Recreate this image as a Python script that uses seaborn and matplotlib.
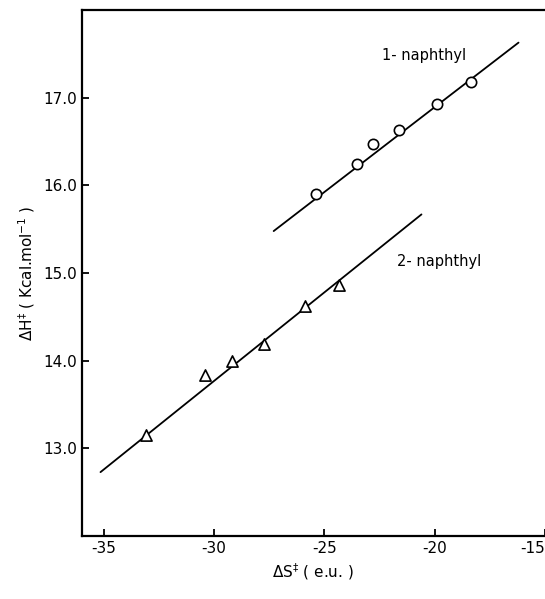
import pandas as pd
import matplotlib.pyplot as plt
import seaborn as sns

# dados (1- e 2-naftil)
ds_1 = [-25.4, -23.5, -22.8, -21.6, -19.9, -18.35]
dh_1 = [15.90, 16.24, 16.47, 16.63, 16.93, 17.18]
fit_ds_1 = [-27.3, -16.2]
fit_dh_1 = [15.48, 17.63]

ds_2 = [-33.1, -30.4, -29.2, -27.75, -25.9, -24.35]
dh_2 = [13.15, 13.84, 14.00, 14.19, 14.62, 14.87]
fit_ds_2 = [-35.15, -20.6]
fit_dh_2 = [12.73, 15.67]

x_ticks = [-35, -30, -25, -20, -15]
y_ticks = [13.0, 14.0, 15.0, 16.0, 17.0]

sns.set_style('ticks', {'axes.edgecolor': 'black', 'text.color': 'black',
                        'xtick.color': 'black', 'ytick.color': 'black',
                        'axes.labelcolor': 'black'})
plt.rcParams['font.family'] = ['DejaVu Sans']

fig = plt.figure(figsize=(5.45, 5.99), dpi=100)
ax = fig.add_axes([0.150, 0.105, 0.850, 0.878])

sns.lineplot(x=fit_ds_1, y=fit_dh_1, color='black', lw=1.3, ax=ax)
sns.lineplot(x=fit_ds_2, y=fit_dh_2, color='black', lw=1.3, ax=ax)
sns.scatterplot(x=ds_1, y=dh_1, marker='o', s=55, facecolor='white',
                edgecolor='black', linewidth=1.2, zorder=3, ax=ax)
sns.scatterplot(x=ds_2, y=dh_2, marker='^', s=65, facecolor='white',
                edgecolor='black', linewidth=1.2, zorder=3, ax=ax)

ax.text(-22.4, 17.48, '1- naphthyl', fontsize=10.5, ha='left', va='center')
ax.text(-21.7, 15.13, '2- naphthyl', fontsize=10.5, ha='left', va='center')

ax.set_xlim(-36, -15)
ax.set_ylim(12, 18)
ax.set_xticks(x_ticks)
ax.set_xticklabels([str(t) for t in x_ticks])
ax.get_xticklabels()[-1].set_ha('right')
ax.set_yticks(y_ticks)
ax.set_yticklabels([f'{t:.1f}' for t in y_ticks])
ax.tick_params(direction='in', length=5, width=1.3, labelsize=11)
ax.spines['right'].set_visible(False)
for s in ['left', 'bottom', 'top']:
    ax.spines[s].set_linewidth(1.6)

ax.set_xlabel(r'$\Delta \mathrm{S}^{\ddagger}$ ( e.u. )', fontsize=11)
ax.set_ylabel(r'$\Delta \mathrm{H}^{\ddagger}$ ( Kcal.mol$^{-1}$ )', fontsize=11)

plt.savefig('out.png', dpi=100)
